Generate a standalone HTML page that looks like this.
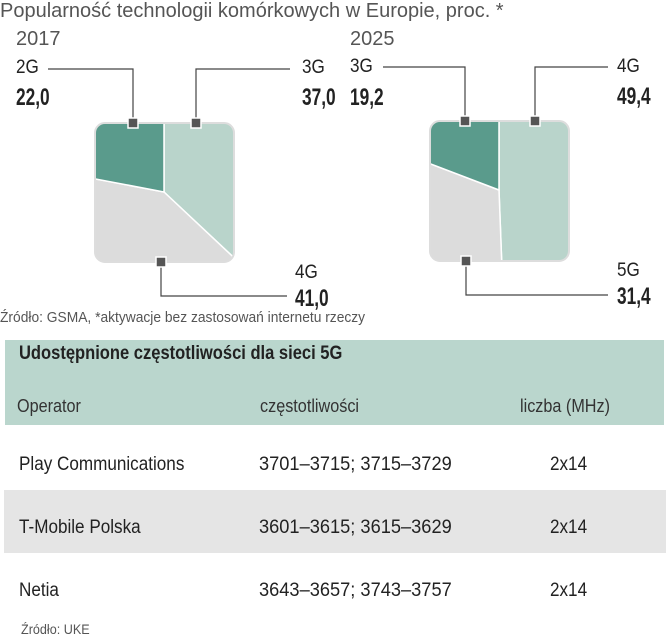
<!DOCTYPE html>
<html><head><meta charset="utf-8">
<style>
body{margin:0;background:#fff;width:666px;height:640px;overflow:hidden;position:relative;font-family:"Liberation Sans Narrow","Liberation Sans",sans-serif;color:#222}
.t{position:absolute;white-space:nowrap;transform-origin:0 0}
.lt{color:#555}
.b{font-weight:bold;font-size:24px;color:#222;transform:scaleX(0.72)}
.lab{font-size:19px;color:#222;transform:scaleX(0.9)}
.r{font-size:19px;transform:scaleX(0.9)}
.n{font-size:19px;transform:scaleX(0.96)}
</style></head><body>
<div class="t lt" style="left:0;top:0;font-size:20px;">Popularność technologii komórkowych w Europie, proc. *</div>
<div class="t lt" style="left:16px;top:28px;font-size:20px;">2017</div>
<div class="t lt" style="left:350px;top:28px;font-size:20px;">2025</div>
<svg id="pies" width="666" height="320" style="position:absolute;left:0;top:0">
<defs>
<clipPath id="c0"><rect x="95" y="123" width="139" height="139" rx="10"/></clipPath>
<clipPath id="c1"><rect x="430" y="121" width="139" height="140" rx="10"/></clipPath>
</defs>
<g id="g0" clip-path="url(#c0)"></g>
<g id="g1" clip-path="url(#c1)"></g>
<rect x="95" y="123" width="139" height="139" rx="10" fill="none" stroke="#ddd" stroke-width="2"/>
<rect x="430" y="121" width="139" height="140" rx="10" fill="none" stroke="#ddd" stroke-width="2"/>
<g fill="none" stroke="#444" stroke-width="1.2">
<polyline points="48,69 133,69 133,123"/>
<polyline points="290,69 196,69 196,123"/>
<polyline points="161,262 161,296 287,296"/>
<polyline points="383,67 465,67 465,121"/>
<polyline points="608,67 535,67 535,121"/>
<polyline points="466,261 466,295 608,295"/>
</g>
<g fill="#555" stroke="#fff" stroke-width="1.5">
<rect x="128" y="118" width="10" height="10"/><rect x="191" y="118" width="10" height="10"/><rect x="156" y="257" width="10" height="10"/>
<rect x="460" y="116" width="10" height="10"/><rect x="530" y="116" width="10" height="10"/><rect x="461" y="256" width="10" height="10"/>
</g>
</svg>
<div class="t lab" style="left:16px;top:57px">2G</div>
<div class="t b" style="left:16px;top:84px">22,0</div>
<div class="t lab" style="left:302px;top:57px">3G</div>
<div class="t b" style="left:302px;top:84px">37,0</div>
<div class="t lab" style="left:295px;top:262px">4G</div>
<div class="t b" style="left:295px;top:285px">41,0</div>
<div class="t lab" style="left:350px;top:56px">3G</div>
<div class="t b" style="left:350px;top:84px">19,2</div>
<div class="t lab" style="left:617px;top:56px">4G</div>
<div class="t b" style="left:617px;top:83px">49,4</div>
<div class="t lab" style="left:617px;top:260px">5G</div>
<div class="t b" style="left:617px;top:283px">31,4</div>
<div class="t lt" style="left:0;top:309px;font-size:15px;transform:scaleX(0.92)">Źródło: GSMA, *aktywacje bez zastosowań internetu rzeczy</div>

<div style="position:absolute;left:5px;top:340px;width:659px;height:85px;background:#bad6cd"></div>
<div style="position:absolute;left:4px;top:490px;width:662px;height:63px;background:#e5e5e5"></div>
<div class="t" style="left:19px;top:343px;font-size:19px;font-weight:bold;transform:scaleX(0.87)">Udostępnione częstotliwości dla sieci 5G</div>
<div class="t r" style="left:17px;top:396px;font-size:18px;color:#333">Operator</div>
<div class="t r" style="left:260px;top:396px;font-size:18px;color:#333">częstotliwości</div>
<div class="t r" style="left:520px;top:396px;font-size:18px;color:#333">liczba (MHz)</div>
<div class="t r" style="left:19px;top:454px">Play Communications</div>
<div class="t n" style="left:259px;top:454px">3701–3715; 3715–3729</div>
<div class="t r" style="left:550px;top:454px">2x14</div>
<div class="t r" style="left:19px;top:517px">T-Mobile Polska</div>
<div class="t n" style="left:259px;top:517px">3601–3615; 3615–3629</div>
<div class="t r" style="left:550px;top:517px">2x14</div>
<div class="t r" style="left:19px;top:580px">Netia</div>
<div class="t n" style="left:259px;top:580px">3643–3657; 3743–3757</div>
<div class="t r" style="left:550px;top:580px">2x14</div>
<div class="t lt" style="left:21px;top:621px;font-size:14px;transform:scaleX(0.9)">Źródło: UKE</div>
<script>
// 2017: clockwise from 12 o'clock: 3G, 4G, 2G
const cats2017 = ["3G","4G","2G"];
const vals2017 = [37.0, 41.0, 22.0];
// 2025: clockwise from 12 o'clock: 4G, 5G, 3G
const cats2025 = ["4G","5G","3G"];
const vals2025 = [49.4, 31.4, 19.2];
const colors2017 = {"3G":"#b9d4cb","4G":"#dcdcdc","2G":"#5a9b8c"};
const colors2025 = {"4G":"#b9d4cb","5G":"#dcdcdc","3G":"#5a9b8c"};
function drawPie(gid, cx, cy, cats, vals, cols){
  const g=document.getElementById(gid);
  const tot=vals.reduce((a,b)=>a+b,0);
  let a=0; const R=200;
  vals.forEach((v,i)=>{
    const a0=a/tot*2*Math.PI, a1=(a+v)/tot*2*Math.PI; a+=v;
    const x0=cx+R*Math.sin(a0), y0=cy-R*Math.cos(a0), x1=cx+R*Math.sin(a1), y1=cy-R*Math.cos(a1);
    const p=document.createElementNS("http://www.w3.org/2000/svg","path");
    p.setAttribute("d",`M${cx},${cy}L${x0},${y0}A${R},${R} 0 ${a1-a0>Math.PI?1:0} 1 ${x1},${y1}Z`);
    p.setAttribute("fill",cols[cats[i]]);
    p.setAttribute("stroke","#fff");
    p.setAttribute("stroke-width","1.5");
    
    
    g.appendChild(p);
  });
}
drawPie("g0",164,192,cats2017,vals2017,colors2017);
drawPie("g1",499,190,cats2025,vals2025,colors2025);
</script>
</body></html>
